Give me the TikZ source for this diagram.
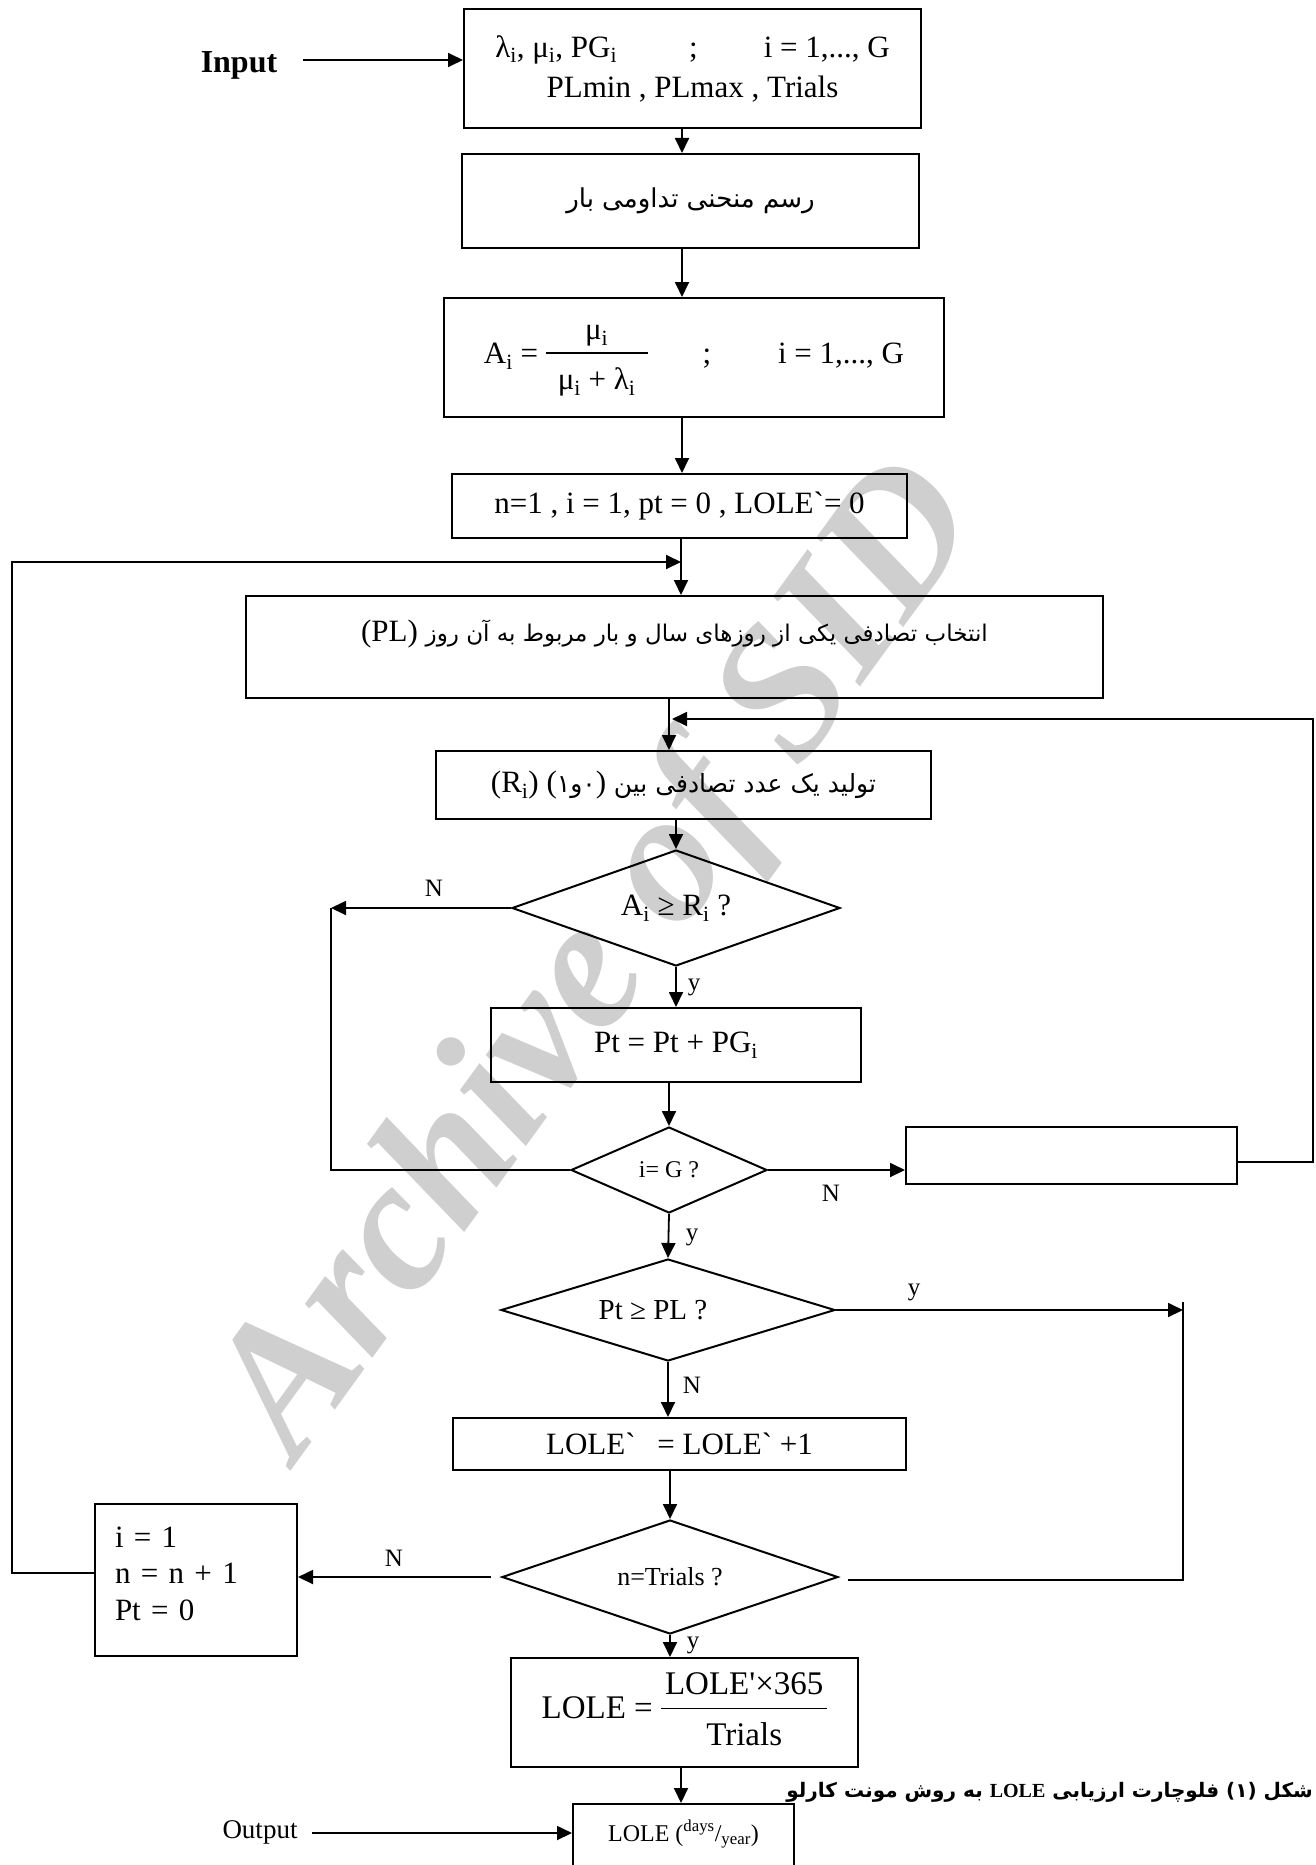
\documentclass[tikz,border=0pt]{standalone}
\usepackage{fontspec}
\setmainfont{Liberation Serif}[Ligatures=TeXOff]
\newfontfamily\fa[Script=Arabic]{DejaVu Sans}
\TeXXeTstate=1
\usetikzlibrary{arrows.meta,shapes.geometric}
\newcommand{\fr}[3][4pt]{{\setlength\arrayrulewidth{1.5pt}\begin{tabular}[c]{@{\hspace{#1}}c@{\hspace{#1}}}#2\\[2pt]\hline\rule{0pt}{36pt}#3\end{tabular}}}
\newcommand{\fc}[1]{\mbox{\fa #1}}
\tikzset{
  box/.style={draw, line width=2pt, rectangle, inner sep=0pt},
  dia/.style={draw, line width=2pt, diamond, inner sep=0pt},
  arr/.style={line width=1.8pt, -{Triangle[length=15pt,width=14pt]}},
  ln/.style={line width=1.8pt},
  lab/.style={inner sep=0pt, font=\fontsize{25}{28}\selectfont},
  t31/.style={font=\fontsize{31}{35}\selectfont},
}
\begin{document}
\begin{tikzpicture}[x=1pt,y=-1pt]
\useasboundingbox (0,0) rectangle (1315,1865);
\clip (0,0) rectangle (1315,1865);

% watermark
\node[text=black!19, font=\fontsize{188}{188}\selectfont\bfseries\itshape, rotate=54, inner sep=0pt] (wm) at (603,963) {Archive of SID};

% boxes
\node[box, minimum width=457pt, minimum height=119pt, font=\fontsize{31}{40}\selectfont, align=center] (b1) at (692.5,68.5)
  {λ\textsubscript{i}, μ\textsubscript{i}, PG\textsubscript{i}\hspace{72pt};\hspace{66pt}i = 1,..., G\\PLmin , PLmax , Trials};
\node[box, minimum width=457pt, minimum height=94pt] (b2) at (690.5,201)
  {\fontsize{26}{30}\selectfont\fa\beginR رسم منحنی تداومی بار\endR};
\node[box, minimum width=500pt, minimum height=119pt, t31] (b3) at (694,357.5)
  {A\textsubscript{i} = \fr[12pt]{μ\textsubscript{i}}{μ\textsubscript{i} + λ\textsubscript{i}}\hspace{55pt};\hspace{67pt}i = 1,..., G};
\node[box, minimum width=455pt, minimum height=64pt, t31] (b4) at (679.5,506)
  {n=1 , i = 1, pt = 0 , LOLE`= 0};
\node[box, minimum width=857pt, minimum height=102pt, text height=24pt, text depth=36pt] (b5) at (674.5,647)
  {\fontsize{31}{35}\selectfont (PL) \fontsize{23}{28}\selectfont\fa\beginR انتخاب تصادفی یکی از روزهای سال و بار مربوط به آن روز\endR};
\node[box, minimum width=495pt, minimum height=68pt] (b6) at (683.5,785)
  {{\fontsize{31}{35}\selectfont (R\textsubscript{i}) (}{\fontsize{25}{30}\selectfont\fc{۱}\fc{و}\fc{۰}}{\fontsize{31}{35}\selectfont) }{\fontsize{25}{30}\selectfont\fa\beginR تولید یک عدد تصادفی بین\endR}};
\node[dia, aspect=2.83, minimum width=328pt, minimum height=116pt, t31] (d1) at (676,908) {A\textsubscript{i} ≥ R\textsubscript{i} ?};
\node[box, minimum width=370pt, minimum height=74pt, t31] (b7) at (676,1045) {Pt = Pt + PG\textsubscript{i}};
\node[dia, aspect=2.28, minimum width=196pt, minimum height=86pt, font=\fontsize{24}{28}\selectfont] (d2) at (669,1170) {i= G ?};
\node[box, minimum width=331pt, minimum height=57pt] (rb) at (1071.5,1155.5) {};
\node[dia, aspect=3.27, minimum width=334pt, minimum height=102pt, font=\fontsize{29}{33}\selectfont] (d3) at (668,1310) {Pt ≥ PL ?\kern30pt};
\node[box, minimum width=453pt, minimum height=52pt, t31] (b8) at (679.5,1444) {LOLE`\hspace{14pt} = LOLE` +1};
\node[dia, aspect=2.95, minimum width=336pt, minimum height=114pt, font=\fontsize{26}{30}\selectfont] (d4) at (670,1577) {n=Trials ?};
\node[box, minimum width=202pt, minimum height=152pt, font=\fontsize{31}{36.5}\selectfont, align=left, text width=162pt, text height=30pt, text depth=96pt] (b9) at (196,1580)
  {i = 1\\n = n + 1\\Pt = 0};
\node[box, minimum width=347pt, minimum height=109pt, font=\fontsize{33}{37}\selectfont] (b10) at (684.5,1712.5)
  {LOLE = \fr{LOLE'×365}{Trials}};
\node[box, minimum width=221pt, minimum height=76pt, font=\fontsize{24}{28}\selectfont, text height=20pt, text depth=22pt] (b11) at (683.5,1842)
  {LOLE (\textsuperscript{days}/\textsubscript{year})};

% texts
\node[inner sep=0pt, font=\fontsize{32}{36}\selectfont\bfseries] (inp) at (239,65) {Input};
\node[inner sep=0pt, font=\fontsize{27}{30}\selectfont] (outp) at (260,1832) {Output};
\node[anchor=east, inner sep=0pt, font=\fontsize{20}{24}\selectfont\bfseries] (cap) at (1313,1792)
  {\fa\beginR شکل (۱) فلوچارت ارزیابی {\rmfamily LOLE} به روش مونت کارلو\endR};

% labels
\node[lab] (l1) at (434,888) {N};
\node[lab] (l2) at (694,987) {y};
\node[lab] (l3) at (831,1193) {N};
\node[lab] (l4) at (692,1237) {y};
\node[lab] (l5) at (914,1292) {y};
\node[lab] (l6) at (692,1385) {N};
\node[lab] (l7) at (394,1558) {N};
\node[lab] (l8) at (693,1645) {y};

% connectors
\coordinate (ax1) at (682,0);
\coordinate (ax2) at (681,0);
\coordinate (ax3) at (669,0);
\draw[arr] (b1.south -| ax1) -- (b2.north -| ax1);
\draw[arr] (b2.south -| ax1) -- (b3.north -| ax1);
\draw[arr] (b3.south -| ax1) -- (b4.north -| ax1);
\draw[arr] (b4.south -| ax2) -- (b5.north -| ax2);
\coordinate (L1) at (12,1573);
\coordinate (L2) at (12,562);
\coordinate (L3) at (681,562);
\draw[arr] (b9.west |- L1) -- (L1) -- (L2) -- (L3);
\draw[arr] (b5.south -| ax3) -- (b6.north -| ax3);
\draw[arr] (b6.south -| d1.north) -- (d1.north);
\draw[arr] (d1.south) -- (b7.north -| d1.south);
\coordinate (N1) at (331,908);
\coordinate (N2) at (331,1170);
\draw[arr] (d1.west) -- (N1);
\draw[ln] (N1) -- (N2) -- (d2.west);
\draw[arr] (b7.south -| d2.north) -- (d2.north);
\draw[arr] (d2.east) -- (d2.east -| rb.west);
\coordinate (R1) at (1313,1162);
\coordinate (R2) at (1313,719);
\coordinate (R3) at (672,719);
\draw[arr] (rb.east |- R1) -- (R1) -- (R2) -- (R3);
\draw[arr] (d2.south) -- (d3.north);
\coordinate (Y0) at (1183,1302);
\coordinate (Y1) at (1183,1310);
\coordinate (Y2) at (1183,1580);
\draw[arr] (d3.east) -- (Y1);
\draw[ln, shorten >=9pt] (Y0) -- (Y2) -- (Y2 -| d4.east);
\draw[arr] (d3.south) -- (d3.south |- b8.north);
\draw[arr] (b8.south -| d4.north) -- (d4.north);
\draw[arr, shorten <=10pt] (d4.west) -- (d4.west -| b9.east);
\draw[arr] (d4.south) -- (d4.south |- b10.north);
\draw[arr] (b10.south -| ax2) -- (b11.north -| ax2);
\coordinate (O1) at (312,1833);
\draw[arr] (O1) -- (O1 -| b11.west);
\coordinate (I1) at (303,60);
\draw[arr] (I1) -- (I1 -| b1.west);
\end{tikzpicture}
\end{document}
